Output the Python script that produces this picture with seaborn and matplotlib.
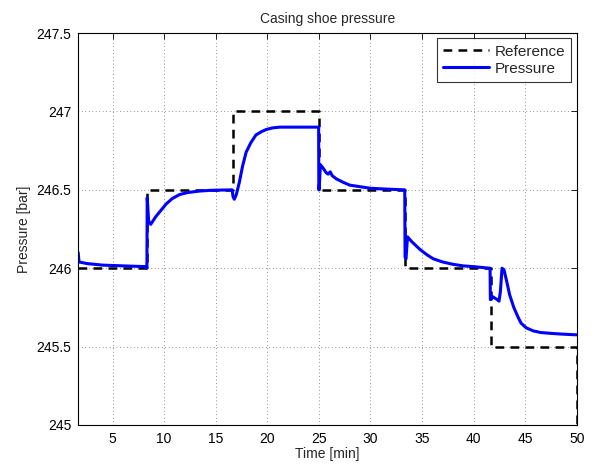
import matplotlib
matplotlib.use("Agg")
import matplotlib.pyplot as plt
import seaborn as sns
import numpy as np
from matplotlib.ticker import FuncFormatter

# reference set-point (step changes every 500 s)
ref_time = [1.67, 8.33, 16.67, 25.0, 33.33, 41.67, 50.0, 50.0]
ref_level = [246.0, 246.5, 247.0, 246.5, 246.0, 245.5, 245.5, 245.0]

# casing shoe pressure
p_time = [1.67, 1.75, 2.5, 4.0, 6.0, 8.3,
          8.33, 8.36, 8.5, 8.7, 9.2, 9.7, 10.2, 10.8, 11.5, 12.3, 13.4, 14.5, 16.6,
          16.67, 16.8, 17.0, 17.3, 17.6, 17.95, 18.4, 18.9, 19.4, 19.9, 20.5, 21.2, 22.5, 24.98,
          25.0, 25.03, 25.15, 25.4, 25.7, 25.9, 26.1, 26.3, 26.7, 27.3, 28.0, 29.0, 30.0, 31.5, 33.3,
          33.33, 33.36, 33.45, 33.6, 34.0, 34.8, 35.5, 36.1, 37.0, 38.0, 39.0, 40.0, 41.6,
          41.63, 41.68, 41.8, 42.05, 42.3, 42.47, 42.6, 42.76, 42.95, 43.2, 43.5, 43.9, 44.3,
          44.6, 45.1, 45.8, 46.5, 47.4, 48.5, 50.0]
p_value = [246.10, 246.04, 246.03, 246.02, 246.015, 246.01,
           246.00, 246.45, 246.30, 246.28, 246.33, 246.37, 246.41, 246.445, 246.47, 246.483, 246.492, 246.497, 246.50,
           246.46, 246.44, 246.47, 246.55, 246.65, 246.74, 246.80, 246.85, 246.87, 246.885, 246.895, 246.90, 246.90, 246.90,
           246.50, 246.50, 246.66, 246.64, 246.61, 246.60, 246.615, 246.59, 246.57, 246.55, 246.53, 246.52, 246.51, 246.505, 246.50,
           246.50, 246.07, 246.06, 246.20, 246.17, 246.12, 246.085, 246.06, 246.04, 246.025, 246.015, 246.01, 246.00,
           245.80, 245.80, 245.82, 245.81, 245.80, 245.79, 245.85, 246.00, 245.99, 245.92, 245.83, 245.75, 245.69,
           245.65, 245.62, 245.60, 245.59, 245.585, 245.58, 245.575]

sns.set_style("white")
plt.rcParams["font.family"] = ["Liberation Sans", "DejaVu Sans"]
plt.rcParams["font.size"] = 10

fig = plt.figure(figsize=(5.97, 4.66), dpi=100)
ax = fig.add_axes([0.131, 0.088, 0.835, 0.841])

ax.plot(ref_time, ref_level, drawstyle="steps-post", color="black",
        linestyle=(0, (3.5, 2.5)), linewidth=1.8, label="Reference")
sns.lineplot(x=p_time, y=p_value, sort=False, estimator=None, ax=ax,
             color="#0000ff", linewidth=2.2, label="Pressure")

ax.set_xlim(1.67, 50)
ax.set_ylim(245, 247.5)
ax.set_xticks(np.arange(5, 51, 5))
ax.set_yticks(np.arange(245, 247.51, 0.5))
ax.yaxis.set_major_formatter(FuncFormatter(lambda v, p: "%g" % v))
ax.grid(True, color="black", linestyle=(0, (1, 4)), linewidth=0.5, alpha=0.8)
ax.tick_params(direction="in", top=True, right=True, length=4, width=0.6,
               labelsize=10, colors="black", pad=5)
for s in ax.spines.values():
    s.set_color("black")
    s.set_linewidth(0.8)

ax.set_title("Casing shoe pressure", fontsize=10, pad=7)
ax.set_xlabel("Time [min]", fontsize=10, labelpad=1)
ax.set_ylabel("Pressure [bar]", fontsize=10, labelpad=4)

leg = ax.legend(loc="upper right", frameon=True, fancybox=False, fontsize=11,
                handlelength=3.0, borderaxespad=0.35, borderpad=0.4,
                labelspacing=0.2, handletextpad=0.4)
leg.get_frame().set_edgecolor("black")
leg.get_frame().set_linewidth(0.8)

fig.savefig("out.png", dpi=100)
